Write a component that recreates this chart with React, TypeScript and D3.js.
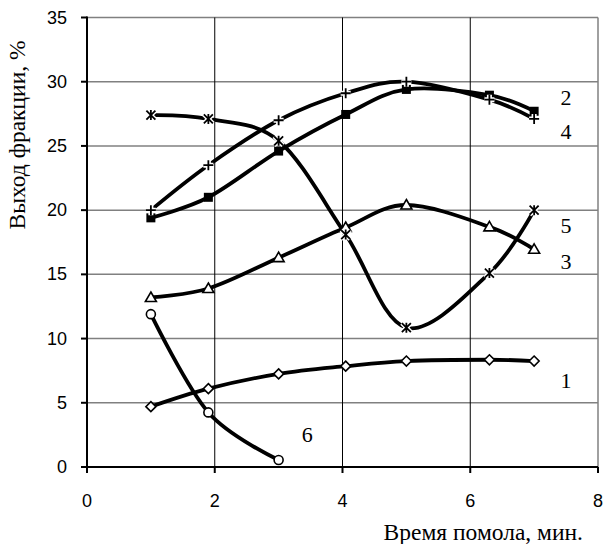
import React from "react";
import * as d3 from "d3";

const xValues = [1, 1.9, 3, 4.05, 5, 6.3, 7];
const series1 = [4.7, 6.1, 7.25, 7.85, 8.25, 8.35, 8.25];
const series2 = [19.4, 21.0, 24.6, 27.45, 29.4, 28.95, 27.7];
const series3 = [13.2, 13.9, 16.3, 18.65, 20.4, 18.7, 16.95];
const series4 = [20.0, 23.5, 27.0, 29.1, 30.0, 28.6, 27.1];
const series5 = [27.4, 27.1, 25.4, 18.1, 10.85, 15.1, 20.0];
const series6 = [11.9, 4.25, 0.55];
const xTicks = [0, 2, 4, 6, 8];
const yTicks = [0, 5, 10, 15, 20, 25, 30, 35];
const seriesNames = ["1", "2", "3", "4", "5", "6"];
const markers = ["diamond", "square", "triangle", "plus", "asterisk", "circle"];
const allSeries = [series1, series2, series3, series4, series5, series6];
const labelPos = [
  [7.5, 6.7],
  [7.5, 28.8],
  [7.5, 16.0],
  [7.5, 26.1],
  [7.5, 18.8],
  [3.45, 2.5],
];

const W = 608;
const H = 544;
const x = d3.scaleLinear().domain([0, 8]).range([87, 598]);
const y = d3.scaleLinear().domain([0, 35]).range([467, 17.5]);

function Marker({ kind, cx, cy }: { kind: string; cx: number; cy: number }) {
  switch (kind) {
    case "diamond":
      return (
        <path
          d={`M${cx},${cy - 5}L${cx + 5},${cy}L${cx},${cy + 5}L${cx - 5},${cy}Z`}
          fill="#fff"
          stroke="#000"
          strokeWidth={1.6}
        />
      );
    case "square":
      return <rect x={cx - 4.5} y={cy - 4.5} width={9} height={9} fill="#000" />;
    case "triangle":
      return (
        <path
          d={`M${cx},${cy - 5.5}L${cx + 5.5},${cy + 4}L${cx - 5.5},${cy + 4}Z`}
          fill="#fff"
          stroke="#000"
          strokeWidth={1.6}
        />
      );
    case "circle":
      return <circle cx={cx} cy={cy} r={4.5} fill="#fff" stroke="#000" strokeWidth={1.6} />;
    case "plus": {
      const d = `M${cx - 5},${cy}L${cx + 5},${cy}M${cx},${cy - 5}L${cx},${cy + 5}`;
      return (
        <g>
          <path d={d} stroke="#fff" strokeWidth={5} />
          <path d={d} stroke="#000" strokeWidth={1.8} />
        </g>
      );
    }
    case "asterisk": {
      const d = `M${cx - 4.5},${cy - 4.5}L${cx + 4.5},${cy + 4.5}M${cx - 4.5},${cy + 4.5}L${cx + 4.5},${cy - 4.5}M${cx},${cy - 5}L${cx},${cy + 5}`;
      return (
        <g>
          <path d={d} stroke="#fff" strokeWidth={4.5} />
          <path d={d} stroke="#000" strokeWidth={1.8} />
        </g>
      );
    }
  }
  return null;
}

export default function App() {
  const line = d3
    .line<[number, number]>()
    .x((d) => x(d[0]))
    .y((d) => y(d[1]))
    .curve(d3.curveCardinal.tension(0));

  return (
    <svg
      width={W}
      height={H}
      style={{ position: "absolute", left: 0, top: 0, background: "#fff" }}
    >
      <rect x={0} y={0} width={W} height={H} fill="#fff" />
      {yTicks
        .filter((t) => t > 0)
        .map((t) => (
          <line key={"h" + t} x1={x(0)} x2={x(8)} y1={y(t)} y2={y(t)} stroke="#808080" strokeWidth={1.5} />
        ))}
      {xTicks
        .filter((t) => t > 0 && t < 8)
        .map((t) => (
          <line key={"v" + t} x1={x(t)} x2={x(t)} y1={y(0)} y2={y(35)} stroke="#000" strokeWidth={1} />
        ))}
      <line x1={x(8)} x2={x(8)} y1={y(0)} y2={y(35)} stroke="#808080" strokeWidth={1.5} />
      <line x1={x(0)} x2={x(0)} y1={y(0) + 1} y2={y(35) - 1} stroke="#000" strokeWidth={2} />
      <line x1={x(0) - 6} x2={x(8)} y1={y(0)} y2={y(0)} stroke="#000" strokeWidth={2} />
      {yTicks.map((t) => (
        <g key={"yt" + t}>
          <line x1={x(0) - 6} x2={x(0)} y1={y(t)} y2={y(t)} stroke="#000" strokeWidth={2} />
          <text
            x={67}
            y={y(t)}
            textAnchor="end"
            dominantBaseline="central"
            fontFamily="Liberation Sans, Arial, sans-serif"
            fontSize={18}
          >
            {t}
          </text>
        </g>
      ))}
      {xTicks.map((t) => (
        <g key={"xt" + t}>
          <line x1={x(t)} x2={x(t)} y1={y(0)} y2={y(0) + 6} stroke="#000" strokeWidth={2} />
          <text
            x={x(t)}
            y={507}
            textAnchor="middle"
            fontFamily="Liberation Sans, Arial, sans-serif"
            fontSize={18}
          >
            {t}
          </text>
        </g>
      ))}
      {allSeries.map((s, i) => {
        const pts = s.map((v, j) => [xValues[j], v] as [number, number]);
        return (
          <g key={"s" + i}>
            <path d={line(pts) || ""} fill="none" stroke="#000" strokeWidth={3.8} />
          </g>
        );
      })}
      {allSeries.map((s, i) => (
        <g key={"m" + i}>
          {s.map((v, j) => (
            <Marker key={j} kind={markers[i]} cx={x(xValues[j])} cy={y(v)} />
          ))}
        </g>
      ))}
      {seriesNames.map((n, i) => (
        <text
          key={"l" + n}
          x={x(labelPos[i][0])}
          y={y(labelPos[i][1])}
          textAnchor="middle"
          dominantBaseline="central"
          fontFamily="Liberation Serif, Times New Roman, serif"
          fontSize={22}
        >
          {n}
        </text>
      ))}
      <text
        x={583}
        y={540}
        textAnchor="end"
        fontFamily="Liberation Serif, Times New Roman, serif"
        fontSize={23.5}
      >
        Время помола, мин.
      </text>
      <text
        transform="translate(25,135) rotate(-90)"
        textAnchor="middle"
        fontFamily="Liberation Serif, Times New Roman, serif"
        fontSize={23.5}
      >
        Выход фракции, %
      </text>
    </svg>
  );
}
